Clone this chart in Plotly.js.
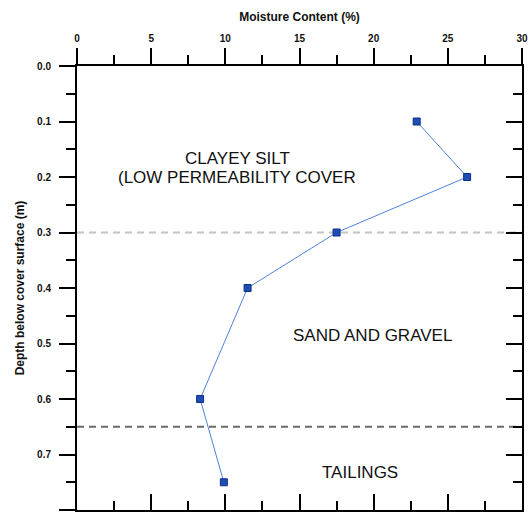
<!DOCTYPE html>
<html>
<head>
<meta charset="utf-8">
<script src="https://cdn.plot.ly/plotly-3.0.1.min.js"></script>
<style>html,body{margin:0;padding:0;background:#fff;}#chart{width:530px;height:514px;}</style>
</head>
<body>
<div id="chart"></div>
<script>
const moisture = [22.9, 26.3, 17.5, 11.5, 8.3, 9.9];
const depth = [0.1, 0.2, 0.3, 0.4, 0.6, 0.75];
const boundaryDepths = [0.3, 0.65];
const layerLabels = ["CLAYEY SILT", "(LOW PERMEABILITY COVER", "SAND AND GRAVEL", "TAILINGS"];
const xTitle = "Moisture Content (%)";
const yTitle = "Depth below cover surface (m)";

const tickFont = {family: "Liberation Sans, Arial, sans-serif", size: 10, color: "#111", weight: "bold"};
const axBase = {
  showgrid: false, zeroline: false, showline: true, linecolor: "#000", linewidth: 2,
  tickcolor: "#000", tickwidth: 2, tickfont: tickFont
};
const labelFont = {family: "Liberation Sans, Arial, sans-serif", size: 17, color: "#111"};

const traces = [
  {x: moisture, y: depth, type: "scatter", mode: "lines+markers", xaxis: "x", yaxis: "y",
   line: {color: "#4f82d9", width: 1},
   marker: {symbol: "square", size: 7, color: "#1f4db3", line: {color: "#0c2f8c", width: 1}},
   hoverinfo: "x+y"},
  // invisible helper trace so the mirrored axes are drawn
  {x: [0], y: [0], type: "scatter", mode: "markers", xaxis: "x2", yaxis: "y2",
   marker: {opacity: 0}, hoverinfo: "skip", showlegend: false}
];

const layout = {
  width: 530, height: 514,
  margin: {l: 77, r: 8, t: 66, b: 4},
  paper_bgcolor: "#fff", plot_bgcolor: "#fff",
  showlegend: false,
  font: {family: "Liberation Sans, Arial, sans-serif", color: "#111"},
  xaxis: Object.assign({}, axBase, {
    side: "top", range: [0, 30], dtick: 5, tick0: 0, ticks: "outside", ticklen: 16,
    ticklabelstandoff: 2,
    minor: {dtick: 2.5, tick0: 0, ticks: "outside", ticklen: 9, tickwidth: 2, tickcolor: "#000"},
    title: {text: xTitle, font: {size: 12, weight: "bold", color: "#111"}, standoff: 9}
  }),
  yaxis: Object.assign({}, axBase, {
    range: [0.8, 0], dtick: 0.1, tick0: 0, tickformat: ".1f", ticks: "outside", ticklen: 16,
    ticklabelstandoff: 6,
    minor: {dtick: 0.05, tick0: 0, ticks: "outside", ticklen: 9, tickwidth: 2, tickcolor: "#000"},
    title: {text: yTitle, font: {size: 12, weight: "bold", color: "#111"}, standoff: 10}
  }),
  xaxis2: Object.assign({}, axBase, {
    overlaying: "x", side: "bottom", range: [0, 30], dtick: 5, tick0: 0, ticks: "inside", ticklen: 16,
    showticklabels: false, anchor: "y2",
    minor: {dtick: 2.5, tick0: 0, ticks: "inside", ticklen: 9, tickwidth: 2, tickcolor: "#000"}
  }),
  yaxis2: Object.assign({}, axBase, {
    overlaying: "y", side: "right", range: [0.8, 0], dtick: 0.1, tick0: 0, ticks: "inside", ticklen: 16,
    showticklabels: false, anchor: "x2",
    minor: {dtick: 0.05, tick0: 0, ticks: "inside", ticklen: 9, tickwidth: 2, tickcolor: "#000"}
  }),
  shapes: [
    {type: "line", xref: "paper", x0: 0, x1: 1, yref: "y", y0: boundaryDepths[0], y1: boundaryDepths[0],
     line: {color: "#c4c4c4", width: 2, dash: "7px,5px"}, layer: "below"},
    {type: "line", xref: "paper", x0: 0, x1: 1, yref: "y", y0: boundaryDepths[1], y1: boundaryDepths[1],
     line: {color: "#6a6a6a", width: 2, dash: "7px,5px"}, layer: "below"}
  ],
  annotations: [
    {text: layerLabels[0], x: 10.8, y: 0.166, xref: "x", yref: "y", xanchor: "center", yanchor: "middle",
     showarrow: false, font: labelFont},
    {text: layerLabels[1], x: 10.8, y: 0.2, xref: "x", yref: "y", xanchor: "center", yanchor: "middle",
     showarrow: false, font: labelFont},
    {text: layerLabels[2], x: 19.9, y: 0.486, xref: "x", yref: "y", xanchor: "center", yanchor: "middle",
     showarrow: false, font: labelFont},
    {text: layerLabels[3], x: 19.1, y: 0.732, xref: "x", yref: "y", xanchor: "center", yanchor: "middle",
     showarrow: false, font: labelFont}
  ]
};

Plotly.newPlot("chart", traces, layout, {displayModeBar: false, staticPlot: true});
</script>
</body>
</html>
